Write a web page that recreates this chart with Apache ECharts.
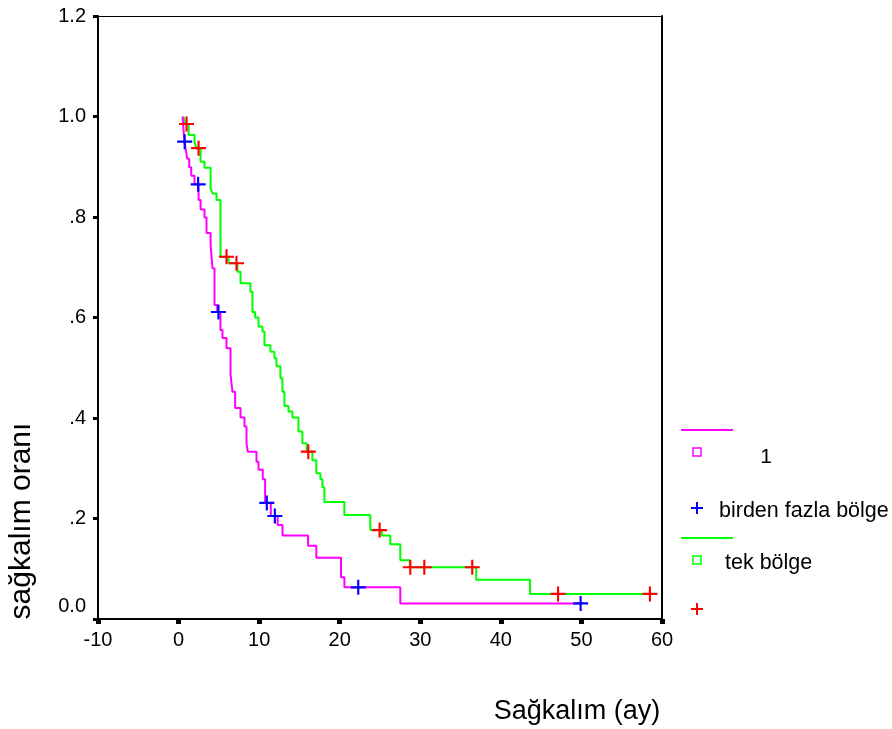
<!DOCTYPE html>
<html><head><meta charset="utf-8">
<script src="https://cdn.jsdelivr.net/npm/echarts@6/dist/echarts.min.js"></script>
<style>html,body{margin:0;padding:0;background:#fff}#c{width:892px;height:729px}</style>
</head><body><div id="c"></div>
<script>
// birden fazla bölge (magenta) – event times and survival after each step
const mTimes = [0.5, 0.57, 0.65, 0.72, 0.90, 1.07, 1.32, 1.57, 1.98, 2.48, 2.73, 3.22, 3.47, 3.97, 4.21, 4.46, 4.80, 5.20, 5.45, 5.95, 6.45, 6.69, 7.02, 7.69, 8.18, 8.43, 8.59, 9.67, 9.92, 10.45, 10.74, 11.45, 12.3, 12.9, 16.07, 17.1, 20.16, 20.58, 27.52, 49.9];
const mSurv  = [1.0, 0.983, 0.966, 0.95, 0.933, 0.916, 0.899, 0.882, 0.865, 0.834, 0.815, 0.799, 0.768, 0.746, 0.698, 0.625, 0.611, 0.575, 0.559, 0.539, 0.487, 0.452, 0.420, 0.401, 0.383, 0.350, 0.333, 0.313, 0.297, 0.278, 0.231, 0.205, 0.187, 0.166, 0.146, 0.122, 0.083, 0.063, 0.031, 0.031];
const mCensT = [0.76, 2.43, 4.95, 10.95, 11.95, 22.3, 49.9];
const mCensS = [0.95, 0.865, 0.611, 0.231, 0.205, 0.063, 0.031];
// tek bölge (green)
const gTimes = [0.6, 0.8, 1.24, 1.98, 2.2, 2.73, 3.22, 3.97, 4.21, 4.71, 5.2, 6.2, 7.3, 7.69, 8.92, 9.17, 9.5, 9.92, 10.41, 10.66, 11.4, 11.9, 12.15, 12.64, 12.89, 13.14, 13.64, 14.13, 14.88, 15.37, 15.9, 16.61, 17.1, 17.6, 17.85, 18.1, 20.58, 23.8, 25.2, 26.28, 27.52, 28.7, 36.94, 43.63, 58.5];
const gSurv  = [1.0, 0.985, 0.963, 0.95, 0.937, 0.910, 0.898, 0.857, 0.847, 0.834, 0.721, 0.708, 0.691, 0.668, 0.651, 0.611, 0.600, 0.582, 0.572, 0.545, 0.532, 0.519, 0.503, 0.479, 0.452, 0.424, 0.413, 0.401, 0.373, 0.350, 0.333, 0.316, 0.290, 0.278, 0.262, 0.233, 0.207, 0.177, 0.166, 0.149, 0.117, 0.103, 0.078, 0.050, 0.050];
const gCensT = [0.99, 2.48, 5.95, 7.19, 16.1, 24.95, 28.76, 30.5, 36.45, 47.1, 58.5];
const gCensS = [0.985, 0.937, 0.721, 0.708, 0.333, 0.177, 0.103, 0.103, 0.103, 0.050, 0.050];
// tick labels
const xTickValues = [-10, 0, 10, 20, 30, 40, 50, 60];
const xTickLabels = ['-10', '0', '10', '20', '30', '40', '50', '60'];
const yTickValues = [0, 0.2, 0.4, 0.6, 0.8, 1.0, 1.2];
const yTickLabels = ['0.0', '.2', '.4', '.6', '.8', '1.0', '1.2'];
const legendNames = ['1', 'birden fazla bölge', 'tek bölge', ''];

const FONT = "'Liberation Sans', Arial, sans-serif";
const plus = 'path://M6,0H8V6H14V8H8V14H6V8H0V6H6Z';
const zip = (a, b) => a.map((v, i) => [v, b[i]]);
const lookup = (vals, labs, v) => { const i = vals.findIndex(t => Math.abs(t - v) < 1e-6); return i >= 0 ? labs[i] : ''; };

const chart = echarts.init(document.getElementById('c'));
const black = '#000';
chart.setOption({
  backgroundColor: '#fff',
  animation: false,
  grid: { left: 98, right: 230, top: 16, bottom: 110, containLabel: false },
  xAxis: [{
    type: 'value', min: -10, max: 60, interval: 10,
    axisLine: { show: true, onZero: false, lineStyle: { color: black, width: 2 } },
    axisTick: { show: true, length: 5, lineStyle: { color: black, width: 5 } },
    axisLabel: { color: black, fontFamily: FONT, fontSize: 20, margin: 11, formatter: v => lookup(xTickValues, xTickLabels, v) },
    splitLine: { show: false }
  }, {
    type: 'value', position: 'top', min: -10, max: 60,
    axisLine: { show: true, onZero: false, lineStyle: { color: black, width: 1 } },
    axisTick: { show: false }, axisLabel: { show: false }, splitLine: { show: false }
  }],
  yAxis: [{
    type: 'value', min: 0, max: 1.2, interval: 0.2,
    axisLine: { show: true, onZero: false, lineStyle: { color: black, width: 2 } },
    axisTick: { show: true, length: 5, lineStyle: { color: black, width: 3 } },
    axisLabel: {
      color: black, fontFamily: FONT, fontSize: 20, margin: 12,
      formatter: v => { const s = lookup(yTickValues, yTickLabels, v); return v === 0 ? '{z|' + s + '}' : s; },
      rich: { z: { fontFamily: FONT, fontSize: 20, color: black, padding: [0, 0, 26, 0] } }
    },
    splitLine: { show: false }
  }, {
    type: 'value', position: 'right', min: 0, max: 1.2,
    axisLine: { show: true, onZero: false, lineStyle: { color: black, width: 2 } },
    axisTick: { show: false }, axisLabel: { show: false }, splitLine: { show: false }
  }],
  series: [
    { type: 'line', step: 'end', data: zip(gTimes, gSurv), showSymbol: false, lineStyle: { color: '#00ff00', width: 2 }, z: 2 },
    { type: 'line', step: 'end', data: zip(mTimes, mSurv), showSymbol: false, lineStyle: { color: '#ff00ff', width: 2 }, z: 3 },
    { type: 'scatter', data: zip(mCensT, mCensS), symbol: plus, symbolSize: 15, itemStyle: { color: '#0000ff', opacity: 1 }, z: 4 },
    { type: 'scatter', data: zip(gCensT, gCensS), symbol: plus, symbolSize: 15, itemStyle: { color: '#ff0000', opacity: 1 }, z: 4 }
  ],
  graphic: [
    { type: 'text', x: 577, y: 712, style: { text: 'Sağkalım (ay)', font: '27px ' + FONT, fill: black, align: 'center', verticalAlign: 'middle' } },
    { type: 'text', x: 22, y: 521, rotation: Math.PI / 2, style: { text: 'sağkalım oranı', font: '30px ' + FONT, fill: black, align: 'center', verticalAlign: 'middle' } },
    // legend
    { type: 'line', shape: { x1: 681, y1: 430, x2: 733, y2: 430 }, style: { stroke: '#ff00ff', lineWidth: 2 } },
    { type: 'rect', shape: { x: 693, y: 448, width: 8, height: 8 }, style: { stroke: '#ff00ff', lineWidth: 1.5, fill: 'none' } },
    { type: 'text', x: 766, y: 457, style: { text: legendNames[0], font: '21px ' + FONT, fill: black, align: 'center', verticalAlign: 'middle' } },
    { type: 'line', shape: { x1: 691, y1: 508, x2: 703, y2: 508 }, style: { stroke: '#0000ff', lineWidth: 2 } },
    { type: 'line', shape: { x1: 697, y1: 502, x2: 697, y2: 514 }, style: { stroke: '#0000ff', lineWidth: 2 } },
    { type: 'text', x: 719, y: 511, style: { text: legendNames[1], font: '21.5px ' + FONT, fill: black, align: 'left', verticalAlign: 'middle' } },
    { type: 'line', shape: { x1: 681, y1: 538, x2: 733, y2: 538 }, style: { stroke: '#00ff00', lineWidth: 2 } },
    { type: 'rect', shape: { x: 693, y: 556, width: 8, height: 8 }, style: { stroke: '#00ff00', lineWidth: 1.5, fill: 'none' } },
    { type: 'text', x: 725, y: 563, style: { text: legendNames[2], font: '21.5px ' + FONT, fill: black, align: 'left', verticalAlign: 'middle' } },
    { type: 'line', shape: { x1: 691, y1: 609, x2: 703, y2: 609 }, style: { stroke: '#ff0000', lineWidth: 2 } },
    { type: 'line', shape: { x1: 697, y1: 603, x2: 697, y2: 615 }, style: { stroke: '#ff0000', lineWidth: 2 } }
  ]
});
</script></body></html>
